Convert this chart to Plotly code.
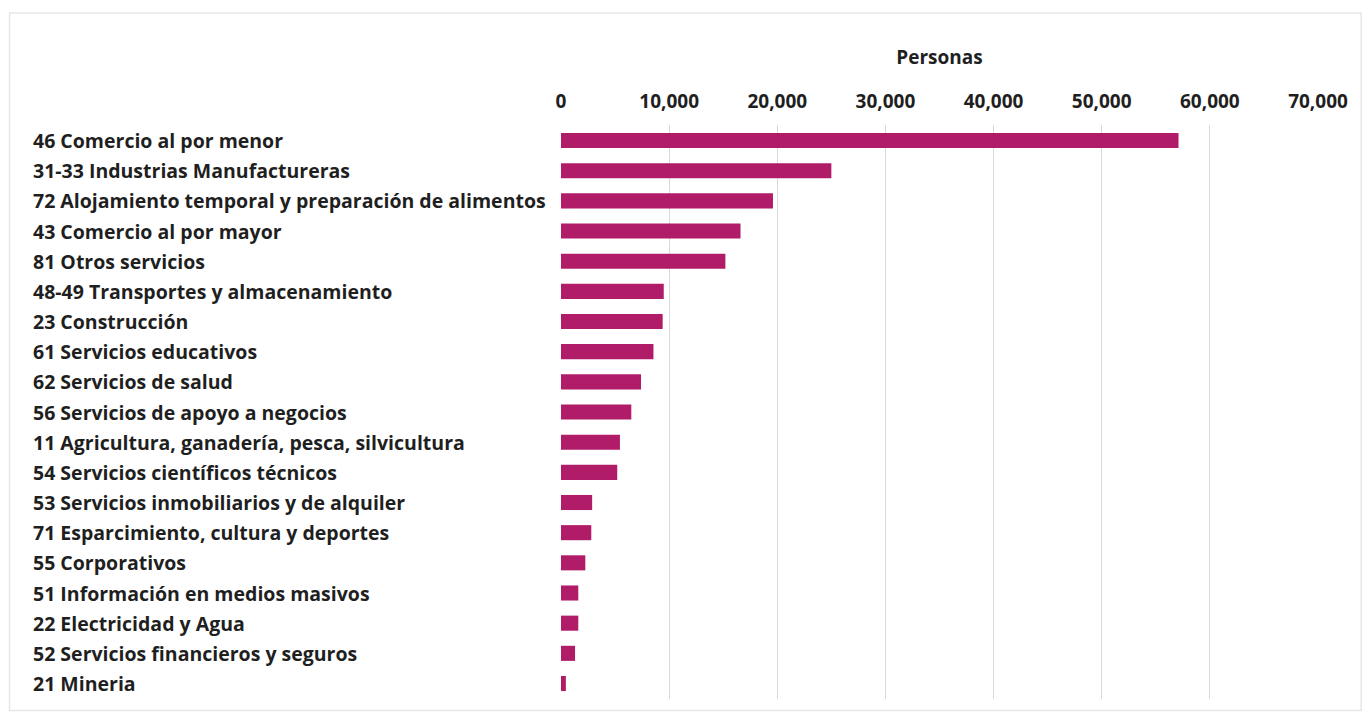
import plotly.graph_objects as go

# Personas ocupadas por sector de actividad
sectores = [
    "46 Comercio al por menor",
    "31-33 Industrias Manufactureras",
    "72 Alojamiento temporal y preparación de alimentos",
    "43 Comercio al por mayor",
    "81 Otros servicios",
    "48-49 Transportes y almacenamiento",
    "23 Construcción",
    "61 Servicios educativos",
    "62 Servicios de salud",
    "56 Servicios de apoyo a negocios",
    "11 Agricultura, ganadería, pesca, silvicultura",
    "54 Servicios científicos técnicos",
    "53 Servicios inmobiliarios y de alquiler",
    "71 Esparcimiento, cultura y deportes",
    "55 Corporativos",
    "51 Información en medios masivos",
    "22 Electricidad y Agua",
    "52 Servicios financieros y seguros",
    "21 Mineria",
]
personas = [57100, 25000, 19600, 16600, 15200, 9500, 9400, 8550, 7400,
            6500, 5450, 5200, 2880, 2800, 2250, 1600, 1600, 1300, 450]

tick_vals = [0, 10000, 20000, 30000, 40000, 50000, 60000, 70000]
tick_text = ["0", "10,000", "20,000", "30,000", "40,000", "50,000", "60,000", "70,000"]

FONT = "Open Sans"
TEXT_COLOR = "#1f1f1f"
BAR_COLOR = "#B01C68"
LABEL_SIZE = 19.5
TICK_SIZE = 19

fig = go.Figure(
    go.Bar(
        x=personas,
        y=sectores,
        orientation="h",
        marker=dict(color=BAR_COLOR, line=dict(width=0)),
        width=0.5,
        hoverinfo="x+y",
    )
)

# Left-aligned category labels
for s in sectores:
    fig.add_annotation(
        x=-0.7005, xref="paper", y=s, yref="y",
        text=s, showarrow=False, xanchor="left", yanchor="middle",
        font=dict(family=FONT, size=LABEL_SIZE, color=TEXT_COLOR, weight="bold"),
    )

# Chart-area frame
fig.add_shape(
    type="rect", xref="paper", yref="paper",
    x0=-0.7285, x1=1.057, y0=-0.02, y1=1.195,
    line=dict(color="#e6e6e6", width=1.5), fillcolor="rgba(0,0,0,0)", layer="below",
)

fig.update_layout(
    width=1364, height=713,
    margin=dict(l=561, r=46, t=125, b=14),
    paper_bgcolor="white", plot_bgcolor="white",
    showlegend=False,
    font=dict(family=FONT, color=TEXT_COLOR),
    xaxis=dict(
        side="top",
        range=[0, 70000],
        tickvals=tick_vals, ticktext=tick_text,
        showgrid=True, gridcolor="#d9d9d9", gridwidth=1,
        zeroline=False, showline=False,
        ticks="outside", ticklen=8, tickcolor="rgba(0,0,0,0)",
        tickfont=dict(family=FONT, size=TICK_SIZE, color=TEXT_COLOR, weight="bold"),
        title=dict(text="Personas", standoff=18,
                   font=dict(family=FONT, size=TICK_SIZE, color=TEXT_COLOR, weight="bold")),
        fixedrange=True,
    ),
    yaxis=dict(
        categoryorder="array", categoryarray=sectores,
        autorange="reversed",
        showticklabels=False, showgrid=False, zeroline=False, showline=False,
        fixedrange=True,
    ),
)

fig.write_html("out.html")
